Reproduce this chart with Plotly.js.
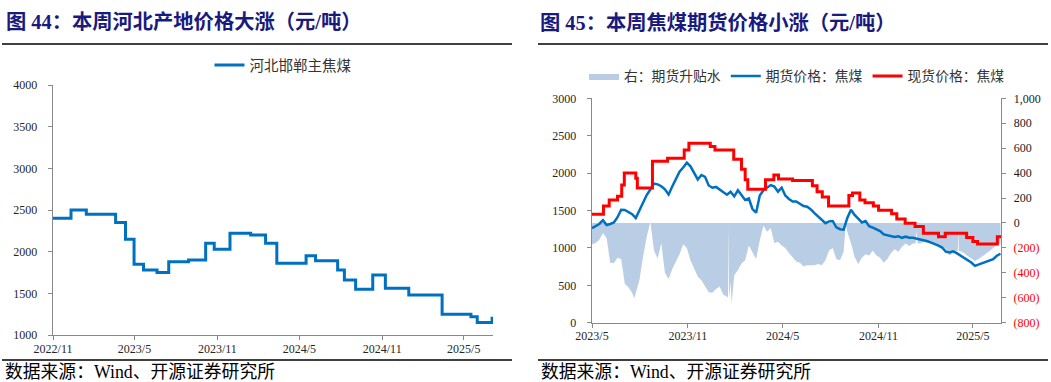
<!DOCTYPE html>
<html>
<head>
<meta charset="utf-8">
<script src="https://cdn.plot.ly/plotly-3.0.1.min.js"></script>
<style>html,body{margin:0;padding:0;background:#fff;}#chart{width:1051px;height:382px;}</style>
</head>
<body>
<div id="chart"></div>
<script>
// ---------- Figure 44 data: 河北邯郸主焦煤 (step changes) ----------
const hbDates = ["2022-11-01","2022-12-11","2023-01-14","2023-03-20","2023-04-11","2023-04-30","2023-05-21","2023-06-20","2023-07-16","2023-08-29","2023-10-06","2023-10-25","2023-11-29","2024-01-14","2024-02-16","2024-03-12","2024-05-16","2024-06-06","2024-07-25","2024-08-09","2024-09-03","2024-10-11","2024-11-08","2024-12-30","2025-03-14","2025-05-17","2025-05-31","2025-07-03","2025-07-05"];
const hbValues = [2400,2500,2450,2350,2150,1850,1780,1750,1880,1900,2100,2030,2220,2200,2100,1860,1950,1890,1780,1660,1550,1720,1560,1480,1250,1220,1150,1200,1200];
const leftTickVals = ["2022-11-01","2023-05-01","2023-11-01","2024-05-01","2024-11-01","2025-05-01"];
const leftTickText = ["2022/11","2023/5","2023/11","2024/5","2024/11","2025/5"];

// ---------- Figure 45 data ----------
const futDates = ["2023-05-01","2023-05-08","2023-05-15","2023-05-22","2023-05-29","2023-06-05","2023-06-12","2023-06-19","2023-06-26","2023-07-03","2023-07-10","2023-07-17","2023-07-24","2023-07-31","2023-08-07","2023-08-14","2023-08-21","2023-08-28","2023-09-04","2023-09-11","2023-09-18","2023-09-25","2023-10-02","2023-10-09","2023-10-16","2023-10-23","2023-10-30","2023-11-06","2023-11-13","2023-11-20","2023-11-27","2023-12-04","2023-12-11","2023-12-18","2023-12-25","2024-01-01","2024-01-08","2024-01-15","2024-01-22","2024-01-29","2024-02-05","2024-02-12","2024-02-19","2024-02-26","2024-03-04","2024-03-11","2024-03-18","2024-03-25","2024-04-01","2024-04-08","2024-04-15","2024-04-22","2024-04-29","2024-05-06","2024-05-13","2024-05-20","2024-05-27","2024-06-03","2024-06-10","2024-06-17","2024-06-24","2024-07-01","2024-07-08","2024-07-15","2024-07-22","2024-07-29","2024-08-05","2024-08-12","2024-08-19","2024-08-26","2024-09-02","2024-09-09","2024-09-16","2024-09-23","2024-09-30","2024-10-07","2024-10-14","2024-10-21","2024-10-28","2024-11-04","2024-11-11","2024-11-18","2024-11-25","2024-12-02","2024-12-09","2024-12-16","2024-12-23","2024-12-30","2025-01-06","2025-01-13","2025-01-20","2025-01-27","2025-02-03","2025-02-10","2025-02-17","2025-02-24","2025-03-03","2025-03-10","2025-03-17","2025-03-24","2025-03-31","2025-04-07","2025-04-14","2025-04-21","2025-04-28","2025-05-05","2025-05-12","2025-05-19","2025-05-26","2025-06-02","2025-06-09","2025-06-16","2025-06-23"];
const futValues = [1262,1290,1320,1370,1306,1320,1340,1410,1510,1507,1484,1450,1400,1495,1610,1707,1780,1860,1850,1825,1783,1715,1820,1930,2020,2075,2140,2090,2010,1915,1975,1950,1835,1805,1815,1776,1745,1710,1750,1690,1770,1700,1640,1660,1520,1470,1700,1770,1800,1840,1820,1752,1805,1700,1655,1620,1620,1585,1560,1550,1515,1465,1418,1370,1330,1355,1360,1275,1250,1245,1400,1510,1440,1390,1340,1360,1290,1270,1245,1225,1180,1165,1160,1145,1155,1135,1150,1135,1135,1125,1110,1100,1088,1070,1055,1030,1005,950,940,955,930,900,870,835,805,760,780,800,815,838,850,895,922];

const spotDates = ["2023-05-01","2023-05-23","2023-06-03","2023-06-19","2023-06-27","2023-07-02","2023-07-24","2023-07-27","2023-08-25","2023-09-23","2023-10-25","2023-11-03","2023-12-14","2023-12-23","2024-01-28","2024-02-12","2024-02-19","2024-02-24","2024-03-29","2024-04-14","2024-04-23","2024-05-20","2024-06-27","2024-07-06","2024-07-16","2024-07-28","2024-09-05","2024-09-12","2024-09-26","2024-10-06","2024-10-22","2024-11-01","2024-11-26","2024-12-06","2024-12-22","2025-01-10","2025-01-26","2025-02-24","2025-03-09","2025-04-19","2025-05-01","2025-05-10","2025-06-17","2025-06-24"];
const spotValues = [1450,1560,1640,1690,1840,2000,1930,1800,2160,2200,2310,2400,2355,2310,2185,2050,1910,1785,1910,1975,1920,1900,1830,1750,1680,1560,1700,1735,1640,1605,1560,1505,1455,1385,1330,1285,1195,1150,1195,1140,1085,1052,1150,1150];

const basisDates = ["2023-05-01","2023-05-08","2023-05-15","2023-05-22","2023-05-29","2023-06-05","2023-06-12","2023-06-19","2023-06-26","2023-07-03","2023-07-10","2023-07-17","2023-07-21","2023-07-24","2023-07-31","2023-08-07","2023-08-14","2023-08-21","2023-08-28","2023-09-04","2023-09-11","2023-09-18","2023-09-25","2023-10-02","2023-10-09","2023-10-16","2023-10-23","2023-10-30","2023-11-06","2023-11-13","2023-11-20","2023-11-27","2023-12-04","2023-12-11","2023-12-18","2023-12-25","2024-01-01","2024-01-08","2024-01-15","2024-01-17","2024-01-18","2024-01-19","2024-01-22","2024-01-24","2024-01-29","2024-02-05","2024-02-12","2024-02-19","2024-02-26","2024-03-04","2024-03-11","2024-03-18","2024-03-25","2024-04-01","2024-04-08","2024-04-15","2024-04-22","2024-04-29","2024-05-06","2024-05-13","2024-05-20","2024-05-27","2024-06-03","2024-06-10","2024-06-17","2024-06-24","2024-07-01","2024-07-08","2024-07-15","2024-07-22","2024-07-29","2024-08-05","2024-08-12","2024-08-19","2024-08-26","2024-08-30","2024-09-02","2024-09-09","2024-09-16","2024-09-23","2024-09-30","2024-10-07","2024-10-14","2024-10-21","2024-10-28","2024-11-04","2024-11-11","2024-11-18","2024-11-25","2024-12-02","2024-12-09","2024-12-16","2024-12-23","2024-12-30","2025-01-06","2025-01-11","2025-01-13","2025-01-15","2025-01-20","2025-01-27","2025-02-03","2025-02-10","2025-02-17","2025-02-24","2025-03-03","2025-03-10","2025-03-17","2025-03-24","2025-03-31","2025-04-02","2025-04-03","2025-04-04","2025-04-07","2025-04-14","2025-04-21","2025-04-28","2025-05-05","2025-05-12","2025-05-19","2025-05-26","2025-06-02","2025-06-09","2025-06-16","2025-06-23"];
const basisValues = [-170,-160,-135,-80,-120,-320,-322,-280,-290,-490,-515,-560,-605,-560,-460,-270,-110,10,-220,-285,-160,-400,-450,-370,-310,-250,-170,-200,-300,-370,-430,-460,-505,-555,-560,-530,-510,-575,-590,-600,-10,-610,-470,-645,-420,-380,-326,-300,-180,-230,-290,-140,-20,-70,-40,-160,-150,-180,-200,-240,-280,-310,-320,-350,-340,-340,-340,-330,-340,-300,-220,-200,-290,-300,-230,-10,-70,-160,-270,-330,-280,-250,-260,-220,-260,-280,-320,-290,-240,-210,-230,-190,-165,-185,-165,-165,-60,-165,-165,-150,-160,-165,-165,-175,-190,-205,-260,-240,-220,-220,-60,-225,-225,-240,-265,-285,-305,-290,-270,-250,-225,-200,-175,-165];

const rightTickVals = ["2023-05-01","2023-11-01","2024-05-01","2024-11-01","2025-05-01"];
const rightTickText = ["2023/5","2023/11","2024/5","2024/11","2025/5"];
const y2PosVals = [0,200,400,600,800,1000];
const y2PosText = ["0","200","400","600","800","1,000"];
const y2NegVals = [-800,-600,-400,-200];
const y2NegText = ["(800)","(600)","(400)","(200)"];

// ---------- figure ----------
const W = 1051, H = 382;
const px = v => v / W, py = v => 1 - v / H;
const serif = "Liberation Serif, Noto Sans CJK SC, serif";
const cjk = "Liberation Serif, Noto Sans CJK SC, sans-serif";
const axisGrey = "#898989";
const mkTickFont = c => ({family: serif, size: 12, color: c});

const traces = [
  {x: hbDates, y: hbValues, name: "河北邯郸主焦煤", type: "scatter", mode: "lines",
   line: {color: "#0070c0", width: 3, shape: "hv"}, xaxis: "x", yaxis: "y", legend: "legend"},
  {x: basisDates, y: basisValues, name: "右：期货升贴水", type: "scatter", mode: "lines",
   fill: "tozeroy", fillcolor: "#b9cde5", line: {color: "rgba(0,0,0,0)", width: 0},
   xaxis: "x2", yaxis: "y2", legend: "legend2"},
  // empty helper trace so the red negative-label axis gets drawn
  {x: [], y: [], type: "scatter", mode: "lines", showlegend: false, hoverinfo: "skip", xaxis: "x2", yaxis: "y4"},
  {x: futDates, y: futValues, name: "期货价格：焦煤", type: "scatter", mode: "lines",
   line: {color: "#0070c0", width: 2.5}, xaxis: "x2", yaxis: "y3", legend: "legend2"},
  {x: spotDates, y: spotValues, name: "现货价格：焦煤", type: "scatter", mode: "lines",
   line: {color: "#ff0000", width: 3, shape: "hv"}, xaxis: "x2", yaxis: "y3", legend: "legend2"}
];

const axisBase = () => ({showgrid: false, zeroline: false, showline: true, linecolor: axisGrey, linewidth: 1.3,
  ticks: "outside", ticklen: 4, tickcolor: axisGrey, tickwidth: 1, tickfont: mkTickFont("#262626"), fixedrange: true});

const layout = {
  width: W, height: H, margin: {l: 0, r: 0, t: 0, b: 0},
  paper_bgcolor: "#fff", plot_bgcolor: "rgba(0,0,0,0)",
  showlegend: true,
  xaxis: Object.assign(axisBase(), {type: "date", domain: [px(53), px(493)], anchor: "y",
    range: ["2022-11-01", "2025-07-05"], tickmode: "array", tickvals: leftTickVals, ticktext: leftTickText,
    ticklabelstandoff: -2}),
  yaxis: Object.assign(axisBase(), {domain: [py(335), py(85)], anchor: "x", range: [1000, 4000],
    tickmode: "array", tickvals: [1000,1500,2000,2500,3000,3500,4000], ticktext: ["1000","1500","2000","2500","3000","3500","4000"],
    ticklabelstandoff: 8}),
  xaxis2: Object.assign(axisBase(), {type: "date", domain: [px(592), px(1001)], anchor: "y2",
    range: ["2023-05-01", "2025-06-24"], tickmode: "array", tickvals: rightTickVals, ticktext: rightTickText,
    ticklabelstandoff: -2}),
  yaxis2: Object.assign(axisBase(), {domain: [py(322.7), py(98.3)], anchor: "x2", side: "right",
    range: [-800, 1000], tickmode: "array", tickvals: y2PosVals, ticktext: y2PosText, ticklabelstandoff: 5,
    tickfont: mkTickFont("#1a1a1a")}),
  yaxis4: Object.assign(axisBase(), {overlaying: "y2", anchor: "x2", side: "right", showline: false,
    range: [-800, 1000], tickmode: "array", tickvals: y2NegVals, ticktext: y2NegText, ticklabelstandoff: 5,
    tickfont: mkTickFont("#ff0000")}),
  yaxis3: Object.assign(axisBase(), {overlaying: "y2", anchor: "x2", side: "left", range: [0, 3000],
    tickmode: "array", tickvals: [0,500,1000,1500,2000,2500,3000], ticktext: ["0","500","1000","1500","2000","2500","3000"],
    ticklabelstandoff: 8}),
  legend: {orientation: "h", x: px(283), y: py(65), xanchor: "center", yanchor: "middle",
    font: {family: cjk, size: 14.5, color: "#333"}, bgcolor: "rgba(0,0,0,0)", itemwidth: 30},
  legend2: {orientation: "h", x: px(797), y: py(76), xanchor: "center", yanchor: "middle",
    font: {family: cjk, size: 13.8, color: "#333"}, bgcolor: "rgba(0,0,0,0)", itemwidth: 30, tracegroupgap: 0},
  shapes: [
    {type: "line", xref: "paper", yref: "paper", x0: px(2), x1: px(512), y0: py(44), y1: py(44), line: {color: "#000", width: 1.5}},
    {type: "line", xref: "paper", yref: "paper", x0: px(538), x1: px(1048), y0: py(44), y1: py(44), line: {color: "#000", width: 1.5}},
    {type: "line", xref: "paper", yref: "paper", x0: px(2), x1: px(512), y0: py(360), y1: py(360), line: {color: "#000", width: 1.5}},
    {type: "line", xref: "paper", yref: "paper", x0: px(538), x1: px(1048), y0: py(360), y1: py(360), line: {color: "#000", width: 1.5}}
  ],
  annotations: [
    {text: "图 44：本周河北产地价格大涨（元/吨）", xref: "paper", yref: "paper", x: px(4), y: py(22), xanchor: "left", yanchor: "middle",
     showarrow: false, font: {family: cjk, size: 20.3, color: "#1a1a7e", weight: "bold"}},
    {text: "图 45：本周焦煤期货价格小涨（元/吨）", xref: "paper", yref: "paper", x: px(538), y: py(22), xanchor: "left", yanchor: "middle",
     showarrow: false, font: {family: cjk, size: 20.3, color: "#1a1a7e", weight: "bold"}},
    {text: "数据来源：Wind、开源证券研究所", xref: "paper", yref: "paper", x: px(3), y: py(372), xanchor: "left", yanchor: "middle",
     showarrow: false, font: {family: cjk, size: 17.8, color: "#000"}},
    {text: "数据来源：Wind、开源证券研究所", xref: "paper", yref: "paper", x: px(539), y: py(372), xanchor: "left", yanchor: "middle",
     showarrow: false, font: {family: cjk, size: 17.8, color: "#000"}}
  ]
};

Plotly.newPlot("chart", traces, layout, {staticPlot: true, displayModeBar: false});
</script>
</body>
</html>
